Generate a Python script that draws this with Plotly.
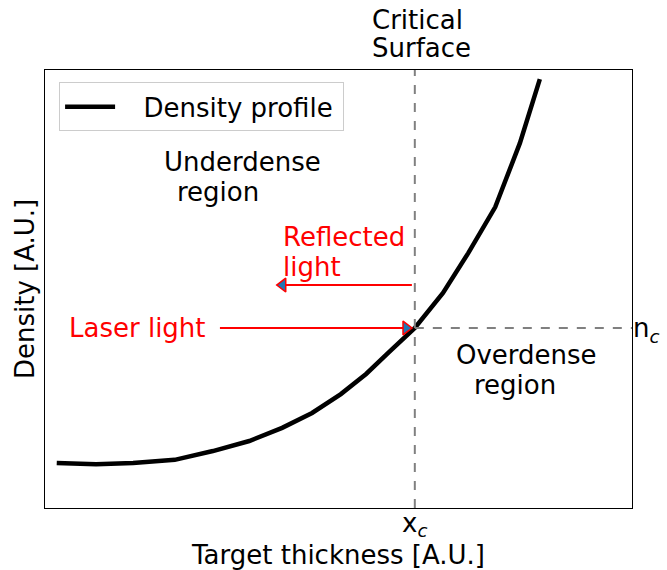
import plotly.graph_objects as go

# Density profile (arbitrary units)
profile_x = [0.20, 0.87, 1.50, 2.21, 2.86, 3.48, 4.04, 4.55, 5.04, 5.47, 5.86, 6.30, 6.78, 7.21, 7.67, 8.09, 8.43]
profile_y = [1.03, 1.00, 1.03, 1.10, 1.30, 1.53, 1.83, 2.17, 2.60, 3.06, 3.56, 4.11, 4.91, 5.82, 6.87, 8.33, 9.79]

x_c = 6.30
n_c = 4.11

# arrows: [start, end] x positions and y level
laser_x = [2.98, 6.25]
laser_y = n_c
reflect_x = [6.25, 3.95]
reflect_y = 5.09

FONT = "DejaVu Sans"
FS = 26
RED = "#ff0000"
GREY = "#808080"

fig = go.Figure()

fig.add_trace(go.Scatter(x=profile_x, y=profile_y, mode="lines",
                         line=dict(color="black", width=4.5),
                         name="\u2002\u2009\u2009Density profile\u2009"))

# dashed critical lines
fig.add_trace(go.Scatter(x=[x_c, x_c], y=[0, 10], mode="lines",
                         line=dict(color=GREY, width=2, dash="dash"),
                         showlegend=False, hoverinfo="skip"))
fig.add_trace(go.Scatter(x=[x_c, 10], y=[n_c, n_c], mode="lines",
                         line=dict(color=GREY, width=2, dash="dash"),
                         showlegend=False, hoverinfo="skip"))

# laser arrow
fig.add_trace(go.Scatter(x=laser_x, y=[laser_y, laser_y], mode="lines",
                         line=dict(color=RED, width=2),
                         showlegend=False, hoverinfo="skip"))
fig.add_trace(go.Scatter(x=[laser_x[1] - 0.1], y=[laser_y], mode="markers",
                         marker=dict(symbol="triangle-right", size=12, color="#1f77b4",
                                     line=dict(color=RED, width=1.5)),
                         showlegend=False, hoverinfo="skip"))
# reflected arrow
fig.add_trace(go.Scatter(x=reflect_x, y=[reflect_y, reflect_y], mode="lines",
                         line=dict(color=RED, width=2),
                         showlegend=False, hoverinfo="skip"))
fig.add_trace(go.Scatter(x=[reflect_x[1] + 0.1], y=[reflect_y], mode="markers",
                         marker=dict(symbol="triangle-left", size=12, color="#1f77b4",
                                     line=dict(color=RED, width=1.5)),
                         showlegend=False, hoverinfo="skip"))

# n_c tick via right-side axis
fig.add_trace(go.Scatter(x=[None], y=[None], yaxis="y2", showlegend=False))

# text labels: one entry per line (x, y, text, colour, anchor, xref, yref, angle)
labels = [
    (1.58, n_c, "Laser light", RED, "center", "x", "y", 0),
    (4.02, 6.19, "Reflected", RED, "left", "x", "y", 0),
    (4.02, 5.50, "light", RED, "left", "x", "y", 0),
    (3.36, 7.90, "Underdense", "black", "center", "x", "y", 0),
    (2.95, 7.21, "region", "black", "center", "x", "y", 0),
    (8.21, 3.49, "Overdense", "black", "center", "x", "y", 0),
    (8.01, 2.81, "region", "black", "center", "x", "y", 0),
    (5.54, 1.114, "Critical", "black", "left", "x", "paper", 0),
    (5.54, 1.050, "Surface", "black", "left", "x", "paper", 0),
    (x_c, -0.038, "x<sub><i>c</i></sub>", "black", "center", "x", "paper", 0),
    (0.499, -0.107, "Target thickness [A.U.]", "black", "center", "paper", "paper", 0),
    (-0.034, 0.5, "Density [A.U.]", "black", "center", "paper", "paper", -90),
]
for x, y, t, c, xa, xr, yr, ang in labels:
    fig.add_annotation(x=x, y=y, xref=xr, yref=yr, text=t, showarrow=False,
                       xanchor=xa, yanchor="middle", textangle=ang,
                       font=dict(family=FONT, size=FS, color=c))

fig.update_layout(
    width=667, height=570,
    margin=dict(l=45, r=35, t=70, b=62),
    paper_bgcolor="white", plot_bgcolor="white",
    font=dict(family=FONT, size=FS, color="black"),
    showlegend=True,
    legend=dict(x=0.024, y=0.972, xanchor="left", yanchor="top",
                bordercolor="#cccccc", borderwidth=1, bgcolor="white",
                font=dict(family=FONT, size=FS), itemwidth=50),
    xaxis=dict(range=[0, 10], showgrid=False, zeroline=False, automargin=False,
               showline=True, mirror=True, linecolor="black", linewidth=1,
               showticklabels=False, ticks="", ticklen=0),
    yaxis=dict(range=[0, 10], showgrid=False, zeroline=False, automargin=False,
               showline=True, mirror=True, linecolor="black", linewidth=1,
               showticklabels=False, ticks="", ticklen=0),
    yaxis2=dict(range=[0, 10], overlaying="y", side="right", showgrid=False,
                zeroline=False, automargin=False, tickvals=[n_c],
                ticktext=["n<sub><i>c</i></sub>"], ticklen=0,
                ticks="", tickfont=dict(family=FONT, size=FS)),
)

fig.write_html("out.html", config={"displayModeBar": False},
               post_script="document.body.style.margin='0';")
